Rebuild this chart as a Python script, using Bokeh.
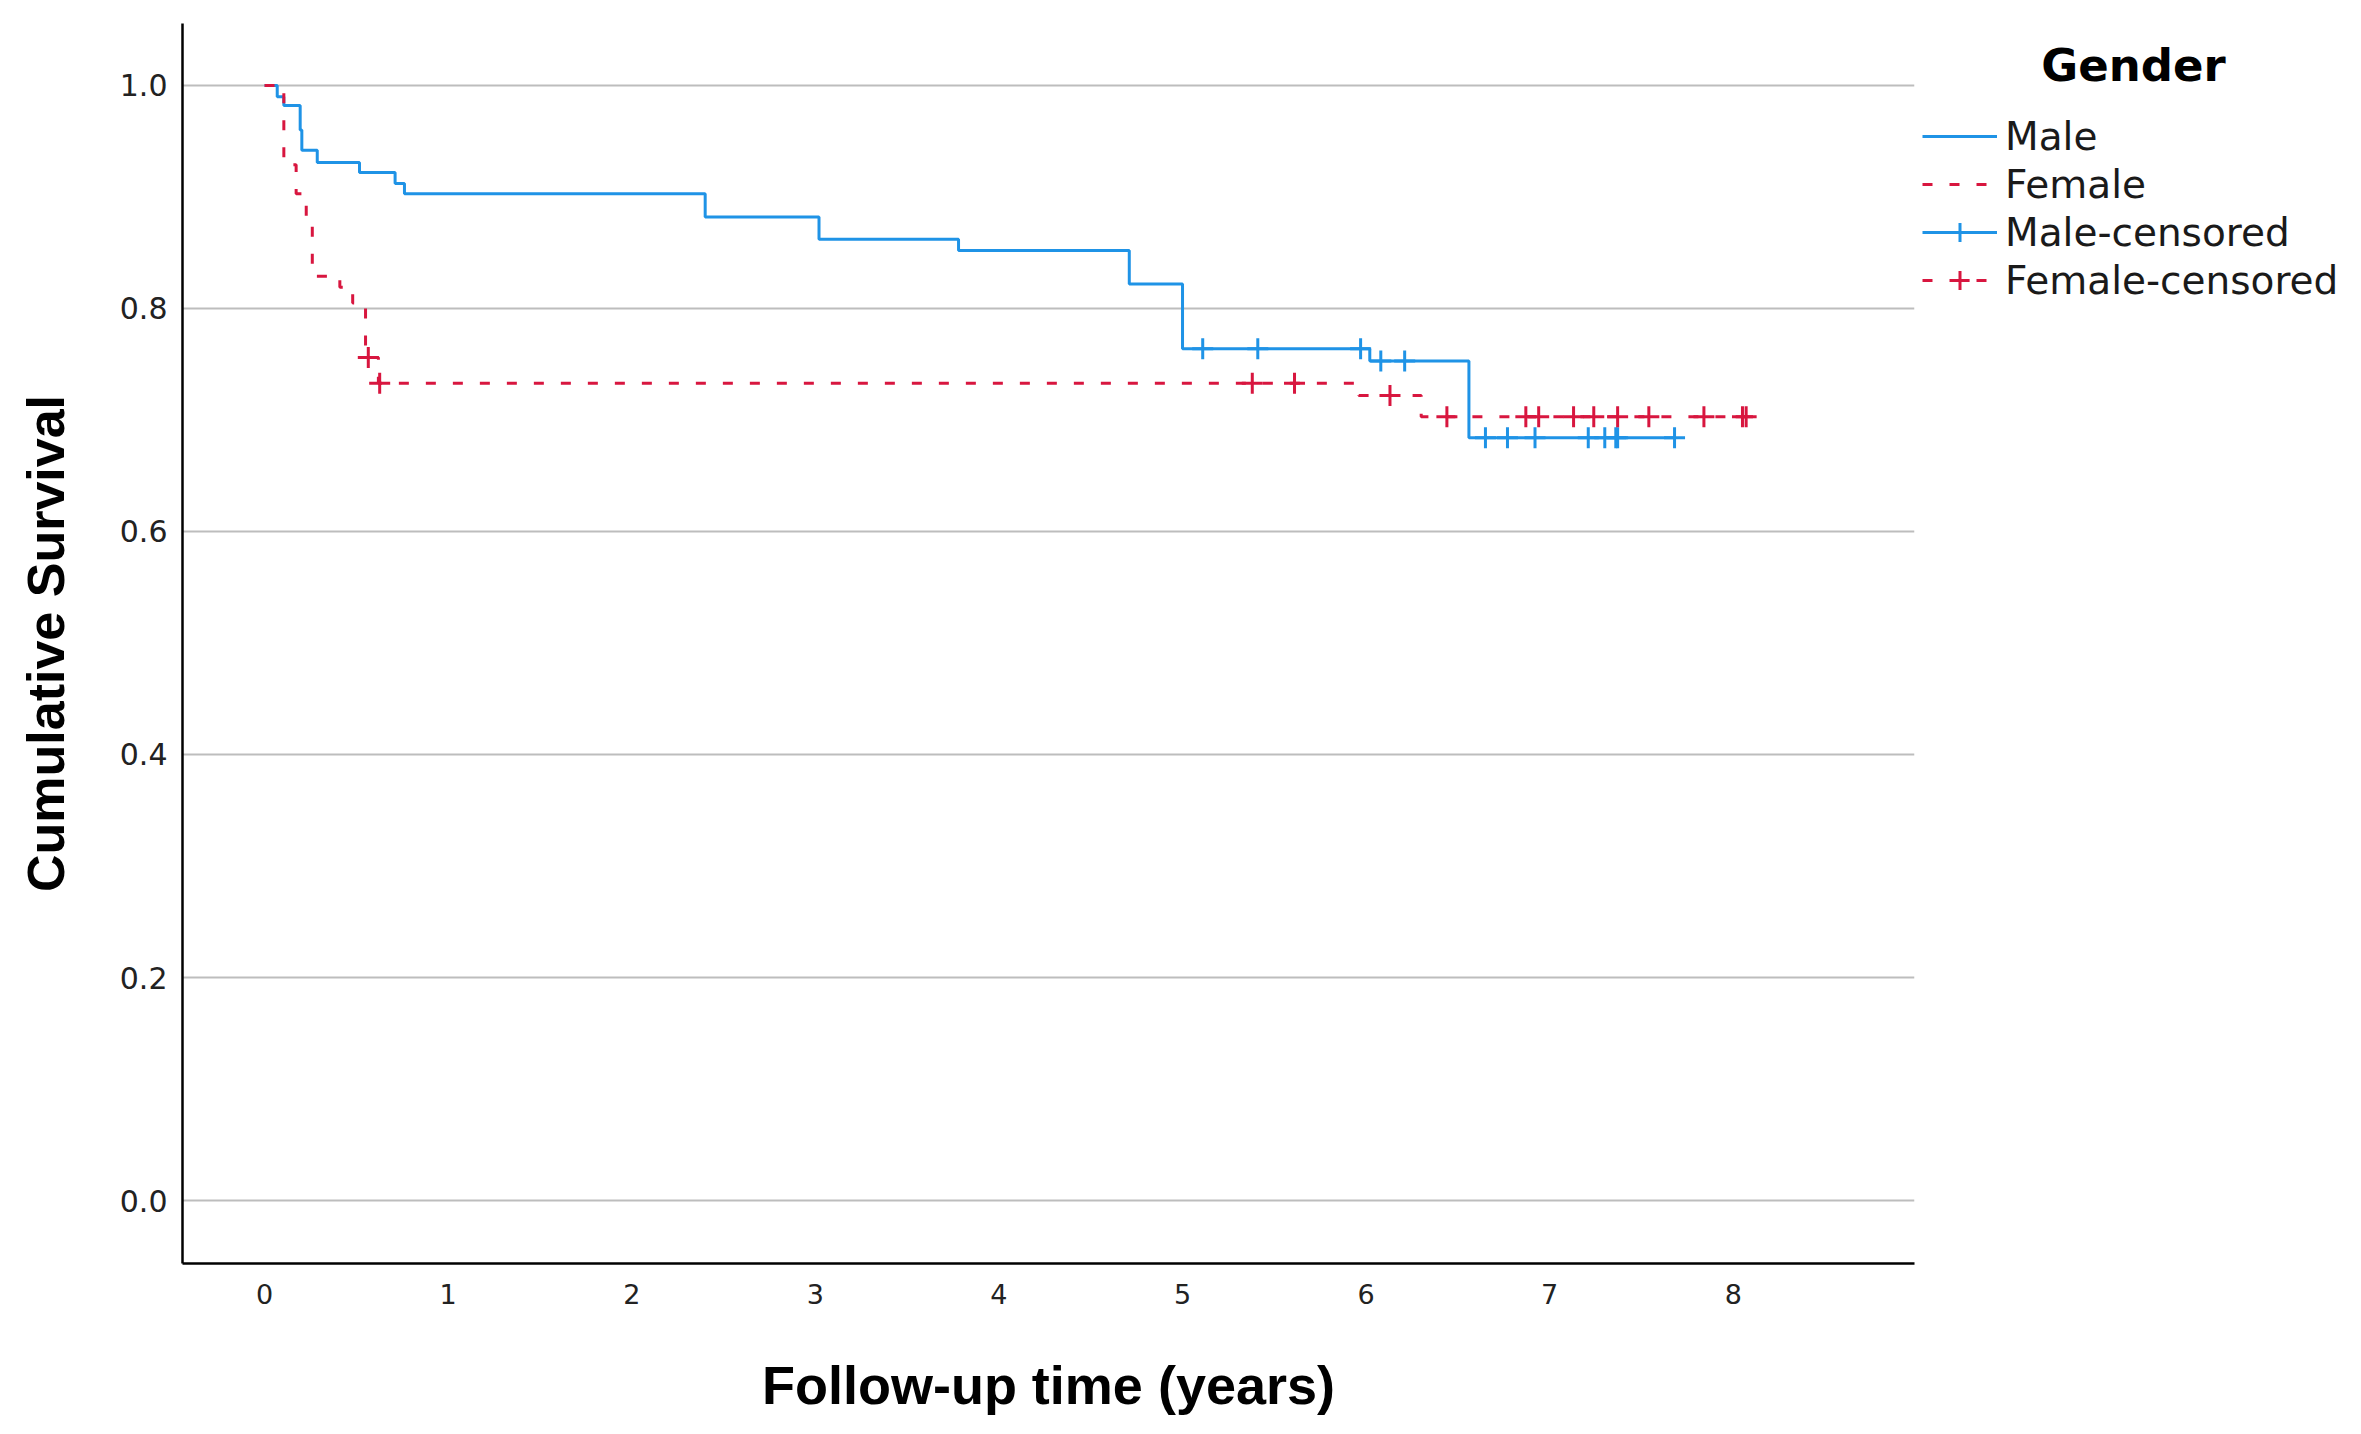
from bokeh.plotting import figure
from bokeh.models import Range1d, FixedTicker, Legend, LegendItem, Label, PrintfTickFormatter
from bokeh.embed import file_html
from bokeh.resources import INLINE

# ---- data ----
male_time = [0.0, 0.069, 0.105, 0.194, 0.203, 0.287, 0.517, 0.711, 0.762, 2.40, 3.02, 3.78, 4.71, 5.00, 6.02, 6.56, 7.68]
male_surv = [1.0, 0.990, 0.982, 0.960, 0.942, 0.931, 0.922, 0.912, 0.903, 0.882, 0.862, 0.852, 0.822, 0.764, 0.753, 0.684, 0.684]
male_cens_time = [5.11, 5.41, 5.97, 6.08, 6.21, 6.65, 6.77, 6.92, 7.21, 7.30, 7.36, 7.37, 7.68]
male_cens_surv = [0.764, 0.764, 0.764, 0.753, 0.753, 0.684, 0.684, 0.684, 0.684, 0.684, 0.684, 0.684, 0.684]

female_time = [0.0, 0.105, 0.172, 0.227, 0.26, 0.41, 0.48, 0.55, 0.62, 5.96, 6.30, 8.07]
female_surv = [1.0, 0.929, 0.903, 0.875, 0.829, 0.819, 0.805, 0.756, 0.733, 0.722, 0.703, 0.703]
female_cens_time = [0.565, 0.627, 5.38, 5.61, 6.13, 6.44, 6.87, 6.94, 7.13, 7.24, 7.37, 7.54, 7.84, 8.05, 8.07]
female_cens_surv = [0.756, 0.733, 0.733, 0.733, 0.722, 0.703, 0.703, 0.703, 0.703, 0.703, 0.703, 0.703, 0.703, 0.703, 0.703]

x_ticks = [0, 1, 2, 3, 4, 5, 6, 7, 8]
y_ticks = [0.0, 0.2, 0.4, 0.6, 0.8, 1.0]

legend_title = "Gender"
series_names = ["Male", "Female", "Male-censored", "Female-censored"]
x_title = "Follow-up time (years)"
y_title = "Cumulative Survival"

BLUE = "#1f93e6"
RED = "#d8163f"

p = figure(frame_width=1732, frame_height=1240,
           min_border_left=182, min_border_right=439,
           min_border_top=23, min_border_bottom=163,
           x_range=Range1d(-0.447, 8.987), y_range=Range1d(-0.0565, 1.0556),
           output_backend="svg", toolbar_location=None)
p.outline_line_color = None
p.background_fill_color = "white"
p.border_fill_color = "white"

# grid
p.xgrid.grid_line_color = None
p.ygrid.grid_line_color = "#bdbdbd"
p.ygrid.grid_line_width = 2

# axes
for ax in (p.xaxis[0], p.yaxis[0]):
    ax.axis_line_color = "black"
    ax.axis_line_width = 2.5
    ax.major_tick_line_color = None
    ax.minor_tick_line_color = None
    ax.major_tick_out = 0
    ax.major_tick_in = 0
    ax.major_label_text_font = "DejaVu Sans"
    ax.major_label_text_color = "#222222"
    ax.axis_label_text_font = "Liberation Sans"
    ax.axis_label_text_font_style = "bold"
    ax.axis_label_text_color = "black"

p.xaxis.major_label_text_font_size = "27px"
p.yaxis.major_label_text_font_size = "30px"
p.xaxis.axis_label_text_font_size = "54px"
p.yaxis.axis_label_text_font_size = "52px"
p.xaxis.ticker = FixedTicker(ticks=x_ticks)
p.yaxis.ticker = FixedTicker(ticks=y_ticks)
p.yaxis.formatter = PrintfTickFormatter(format="%.1f")
p.xaxis.axis_label = x_title
p.yaxis.axis_label = y_title
p.xaxis.major_label_standoff = 20
p.yaxis.major_label_standoff = 15
p.xaxis.axis_label_standoff = 48
p.yaxis.axis_label_standoff = 42

# curves
male_line = p.step(male_time, male_surv, mode="after", line_color=BLUE, line_width=3)
female_line = p.step(female_time, female_surv, mode="after", line_color=RED, line_width=3,
                     line_dash="10 17")
male_cens = p.scatter(male_cens_time, male_cens_surv, marker="cross", size=21,
                      line_color=BLUE, line_width=3)
female_cens = p.scatter(female_cens_time, female_cens_surv, marker="cross", size=21,
                        line_color=RED, line_width=3)

legend = Legend(items=[
    LegendItem(label=series_names[0], renderers=[male_line]),
    LegendItem(label=series_names[1], renderers=[female_line]),
    LegendItem(label=series_names[2], renderers=[male_line, male_cens]),
    LegendItem(label=series_names[3], renderers=[female_line, female_cens]),
], location=(8, 959))
legend.padding = 0
legend.margin = 0
legend.spacing = 0
legend.glyph_width = 75
legend.glyph_height = 48
legend.label_height = 48
legend.label_standoff = 8
legend.label_text_font = "DejaVu Sans"
legend.label_text_font_size = "39px"
legend.label_text_color = "#1a1a1a"
legend.border_line_color = None
legend.background_fill_alpha = 0
p.add_layout(legend, "right")

p.add_layout(Label(x=10.18, y=1.018, text=legend_title, text_align="center",
                   text_baseline="middle", text_font="DejaVu Sans",
                   text_font_style="bold", text_font_size="45px", text_color="black"),
             "right")

open("out.html", "w").write(file_html(p, INLINE))
